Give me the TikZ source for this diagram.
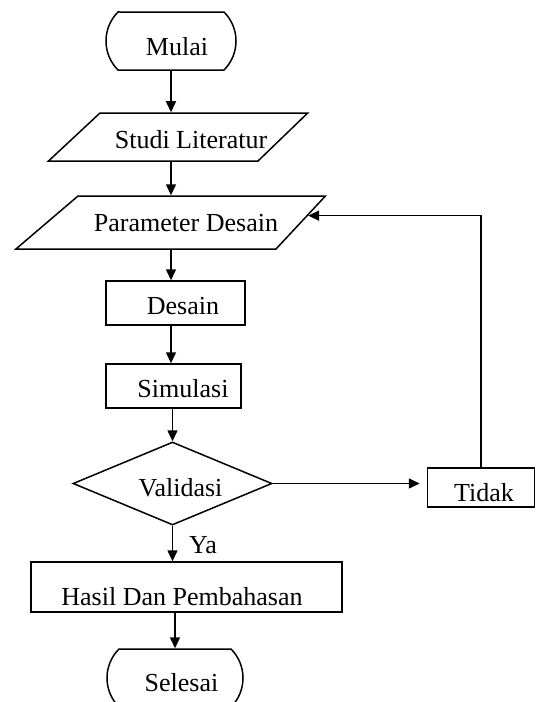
\documentclass[tikz,border=0pt]{standalone}
\usepackage{fontspec}
\setmainfont{Liberation Serif}
\usetikzlibrary{arrows,arrows.meta,shapes.geometric,shapes.misc}

\tikzset{
  teks/.style={font=\fontsize{26}{30}\selectfont, text height=17pt, text depth=0pt, inner sep=0pt},
  terminal/.style={draw, rounded rectangle, rounded rectangle arc length=90, minimum height=58pt, inner sep=0pt},
  io/.style={draw, trapezium},
  proc/.style={draw, rectangle, inner sep=0pt},
  decision/.style={draw, diamond, minimum width=199pt, minimum height=83pt, inner sep=0pt}
}

\begin{document}
\begin{tikzpicture}[x=1pt,y=-1pt,line width=1.5pt,>={Triangle[length=11pt,width=10pt]},every label/.style={teks}]
\useasboundingbox (0,0) rectangle (537,702);
\clip (0,0) rectangle (537,702);

\node[terminal, minimum width=130pt, label={[xshift=6pt,yshift=-5.5pt]center:Mulai}] (mulai) at (171,41) {};

\node[io, trapezium left angle=43, trapezium right angle=136, inner xsep=79pt, inner ysep=24pt,
  label={[xshift=12pt,yshift=-3pt]center:Studi Literatur}] (studi) at (179,137) {};

\node[io, trapezium left angle=40.5, trapezium right angle=133, inner xsep=99pt, inner ysep=26.5pt,
  label={[xshift=9pt]center:Parameter Desain}] (param) at (177,222.5) {};

\node[proc, minimum width=139pt, minimum height=44pt, label={[xshift=7.5pt,yshift=-3pt]center:Desain}] (desain) at (175.5,303) {};

\node[proc, minimum width=135pt, minimum height=44pt, label={[xshift=9.5pt,yshift=-3pt]center:Simulasi}] (simulasi) at (173.5,386) {};

\node[decision, label={[xshift=8pt,yshift=-4pt]center:Validasi}] (validasi) at (172.5,483.5) {};

\node[proc, minimum width=107pt, minimum height=39pt, label={[xshift=3pt,yshift=-5pt]center:Tidak}] (tidak) at (481,487.5) {};

\node[teks] (ya) at (203,544.5) {Ya};

\node[proc, minimum width=311pt, minimum height=50pt, label={[xshift=-4.5pt,yshift=-9.5pt]center:Hasil Dan Pembahasan}] (hasil) at (186.5,587) {};

\node[terminal, minimum width=136pt, label={[xshift=6.5pt,yshift=-4.5pt]center:Selesai}] (selesai) at (175,678) {};

% alur utama
\draw[->] (mulai.south) -- (mulai.south |- studi.north);
\draw[->] (mulai.south |- studi.south) -- (mulai.south |- param.north);
\draw[->] (mulai.south |- param.south) -- (mulai.south |- desain.north);
\draw[->] (mulai.south |- desain.south) -- (mulai.south |- simulasi.north);
\draw[->] (validasi.north |- simulasi.south) -- (validasi.north);
\draw[->] (validasi.south) -- (validasi.south |- hasil.north);
\draw[->] (selesai.north |- hasil.south) -- (selesai.north);

% cabang tidak
\draw[->, shorten >=7pt] (validasi.east) -- (validasi.east -| tidak.west);
\draw[->] (tidak.north) |- (param.3);

\end{tikzpicture}
\end{document}
